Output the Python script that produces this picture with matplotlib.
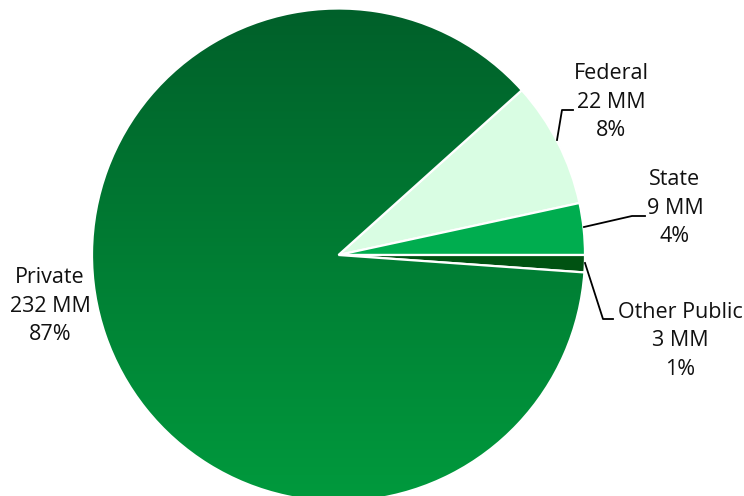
import numpy as np
import matplotlib
matplotlib.use("Agg")
import matplotlib.pyplot as plt
from matplotlib.colors import LinearSegmentedColormap

# data
labels = ["Private", "Federal", "State", "Other Public"]
values = [232, 22, 9, 3]
amounts = ["232 MM", "22 MM", "9 MM", "3 MM"]
pcts = ["87%", "8%", "4%", "1%"]
colors = ["#007a2f", "#d9fde3", "#00ad4f", "#005212"]

plt.rcParams['font.family'] = ['Open Sans', 'DejaVu Sans']

fig = plt.figure(figsize=(7.44, 4.96), dpi=100)
ax = fig.add_axes([0, 0, 1, 1])

cx, cy, r = 338.5, 496 - 255, 246.5
start = 360 - 360 * values[3] / sum(values)

wedges, _ = ax.pie(values, colors=colors, startangle=start, counterclock=False,
                   center=(cx, cy), radius=r, frame=True,
                   wedgeprops=dict(edgecolor="white", linewidth=1.6))
ax.set_xlim(0, 744)
ax.set_ylim(0, 496)
ax.axis("off")

# vertical gradient on the private slice
grad = LinearSegmentedColormap.from_list("g", ["#009a3d", "#00602a"])
img = ax.imshow(np.linspace(0, 1, 256).reshape(-1, 1), cmap=grad, origin="lower",
                extent=(cx - r, cx + r, cy - r, cy + r), aspect="auto", zorder=1.5)
img.set_clip_path(wedges[0])
wedges[0].set_facecolor("none")
wedges[0].set_zorder(2)

# labels with connectors
fs = 15.5
txt = dict(ha="center", va="center", fontsize=fs, color="#111111", linespacing=1.45)
ax.text(50, 496 - 306, "\n".join([labels[0], amounts[0], pcts[0]]), **txt)
ax.text(611, 496 - 102, "\n".join([labels[1], amounts[1], pcts[1]]), **txt)
ax.text(675, 496 - 208, "\n".join([labels[2], amounts[2], pcts[2]]), **txt)
ax.text(680, 496 - 341, "\n".join([labels[3], amounts[3], pcts[3]]), **txt)

lk = dict(color="black", linewidth=1.3, zorder=3)
ax.plot([557, 562, 573], [496 - 140, 496 - 110, 496 - 110], **lk)
ax.plot([584, 632, 645], [496 - 227, 496 - 216, 496 - 216], **lk)
ax.plot([585, 603, 613], [496 - 263, 496 - 319, 496 - 319], **lk)

fig.savefig("out.png", dpi=100, facecolor="white")
